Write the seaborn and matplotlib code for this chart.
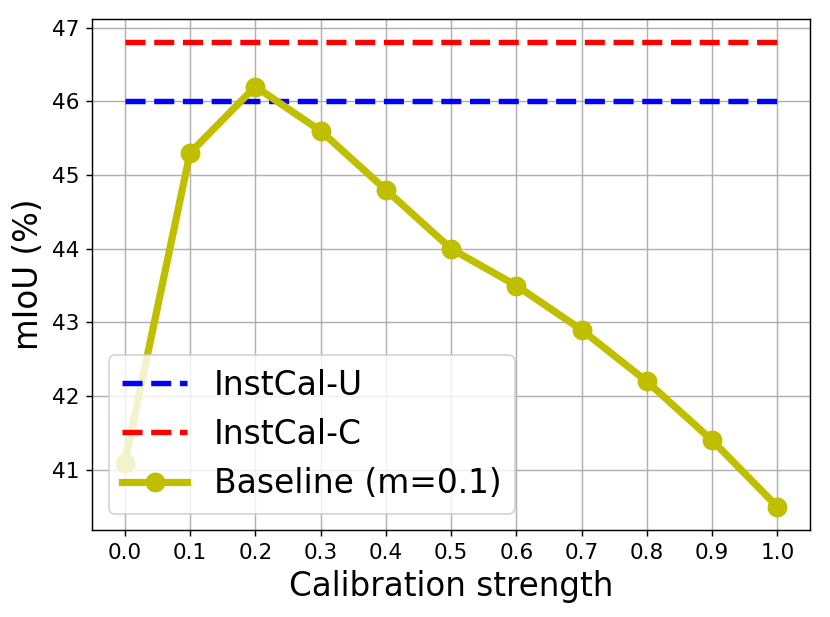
import matplotlib
matplotlib.use("Agg")
import matplotlib.pyplot as plt
import seaborn as sns
import pandas as pd

strength = [0.0, 0.1, 0.2, 0.3, 0.4, 0.5, 0.6, 0.7, 0.8, 0.9, 1.0]
baseline = [41.1, 45.3, 46.2, 45.6, 44.8, 44.0, 43.5, 42.9, 42.2, 41.4, 40.5]
instcal_u = 46.0
instcal_c = 46.8

df = pd.DataFrame({"strength": strength, "baseline": baseline})
df["u"] = instcal_u
df["c"] = instcal_c

fig = plt.figure(figsize=(830 / 130, 617 / 130), dpi=130)
ax = fig.add_axes([0.111, 0.141, 0.865, 0.828])

sns.lineplot(data=df, x="strength", y="u", ax=ax, color="b", linestyle="--",
             linewidth=3, label="InstCal-U")
sns.lineplot(data=df, x="strength", y="c", ax=ax, color="r", linestyle="--",
             linewidth=3, label="InstCal-C")
sns.lineplot(data=df, x="strength", y="baseline", ax=ax, color="y", linewidth=4,
             marker="o", markersize=11, markeredgewidth=0, label="Baseline (m=0.1)")

ax.set_xticks(strength)
ax.set_xticklabels([f"{s:.1f}" for s in strength])
ax.tick_params(labelsize=12)
ax.grid(True)
ax.set_xlabel("Calibration strength", fontsize=18)
ax.set_ylabel("mIoU (%)", fontsize=18)
ax.legend(loc="lower left", fontsize=18.2)

fig.savefig("out.png", dpi=130)
